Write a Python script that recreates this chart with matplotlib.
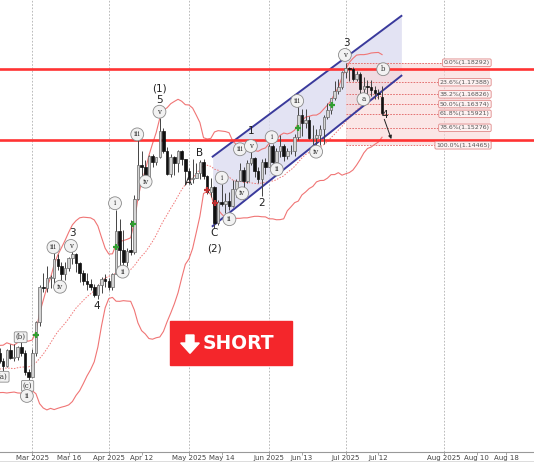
import matplotlib
matplotlib.use('Agg')
import matplotlib.pyplot as plt
from matplotlib.patches import Rectangle, Polygon
from matplotlib.lines import Line2D
import numpy as np
import pandas as pd

# daily candles, Feb 18 - Jul 15 2025
dates = ['02-18', '02-19', '02-20', '02-21', '02-24', '02-25', '02-26', '02-27', '02-28',
         '03-03', '03-04', '03-05', '03-06', '03-07', '03-10', '03-11', '03-12', '03-13', '03-14',
         '03-17', '03-18', '03-19', '03-20', '03-21', '03-24', '03-25', '03-26', '03-27', '03-28', '03-31',
         '04-01', '04-02', '04-03', '04-04', '04-07', '04-08', '04-09', '04-10', '04-11', '04-14',
         '04-15', '04-16', '04-17', '04-18', '04-21', '04-22', '04-23', '04-24', '04-25', '04-28',
         '04-29', '04-30', '05-01', '05-02', '05-05', '05-06', '05-07', '05-08', '05-09', '05-12',
         '05-13', '05-14', '05-15', '05-16', '05-19', '05-20', '05-21', '05-22', '05-23', '05-26',
         '05-27', '05-28', '05-29', '05-30', '06-02', '06-03', '06-04', '06-05', '06-06', '06-09',
         '06-10', '06-11', '06-12', '06-13', '06-16', '06-17', '06-18', '06-19', '06-20', '06-23',
         '06-24', '06-25', '06-26', '06-27', '06-30', '07-01', '07-02', '07-03', '07-04', '07-07',
         '07-08', '07-09', '07-10', '07-11', '07-14', '07-15']
opens = [1.0483, 1.0446, 1.0422, 1.0500, 1.0459, 1.0465, 1.0512, 1.0485, 1.0398,
         1.0375, 1.0484, 1.0626, 1.0792, 1.0784, 1.0832, 1.0833, 1.0918, 1.0889, 1.0852,
         1.0878, 1.0922, 1.0942, 1.0900, 1.0853, 1.0816, 1.0802, 1.0790, 1.0754, 1.0800, 1.0827,
         1.0816, 1.0791, 1.0852, 1.1050, 1.0959, 1.0905, 1.0960, 1.0951, 1.1198, 1.1356,
         1.1348, 1.1283, 1.1398, 1.1369, 1.1393, 1.1514, 1.1418, 1.1313, 1.1390, 1.1364,
         1.1421, 1.1382, 1.1327, 1.1289, 1.1297, 1.1317, 1.1367, 1.1303, 1.1232, 1.1251,
         1.1088, 1.1185, 1.1175, 1.1187, 1.1165, 1.1242, 1.1283, 1.1330, 1.1281, 1.1364,
         1.1386, 1.1326, 1.1292, 1.1368, 1.1348, 1.1442, 1.1370, 1.1419, 1.1443, 1.1397,
         1.1420, 1.1422, 1.1487, 1.1585, 1.1549, 1.1562, 1.1479, 1.1480, 1.1494, 1.1523,
         1.1578, 1.1609, 1.1664, 1.1700, 1.1718, 1.1787, 1.1803, 1.1800, 1.1752, 1.1777,
         1.1709, 1.1722, 1.1717, 1.1703, 1.1689, 1.1668]
highs = [1.0505, 1.0461, 1.0504, 1.0528, 1.0528, 1.0516, 1.0545, 1.0498, 1.0411,
         1.0502, 1.0630, 1.0797, 1.0854, 1.0889, 1.0845, 1.0947, 1.0944, 1.0905, 1.0907,
         1.0927, 1.0955, 1.0946, 1.0904, 1.0867, 1.0856, 1.0826, 1.0804, 1.0803, 1.0837, 1.0852,
         1.0832, 1.0855, 1.1146, 1.1107, 1.1052, 1.0970, 1.1099, 1.1214, 1.1474, 1.1422,
         1.1379, 1.1401, 1.1405, 1.1394, 1.1573, 1.1526, 1.1437, 1.1405, 1.1395, 1.1423,
         1.1424, 1.1385, 1.1340, 1.1381, 1.1364, 1.1379, 1.1381, 1.1310, 1.1295, 1.1260,
         1.1195, 1.1265, 1.1227, 1.1228, 1.1287, 1.1288, 1.1363, 1.1346, 1.1376, 1.1418,
         1.1390, 1.1345, 1.1384, 1.1386, 1.1451, 1.1451, 1.1434, 1.1495, 1.1454, 1.1435,
         1.1449, 1.1498, 1.1631, 1.1614, 1.1615, 1.1583, 1.1541, 1.1521, 1.1540, 1.1585,
         1.1641, 1.1667, 1.1744, 1.1754, 1.1789, 1.1829, 1.1808, 1.1808, 1.1792, 1.1787,
         1.1765, 1.1747, 1.1749, 1.1720, 1.1705, 1.1720]
lows = [1.0437, 1.0401, 1.0418, 1.0458, 1.0449, 1.0452, 1.0470, 1.0382, 1.0359,
        1.0373, 1.0470, 1.0610, 1.0767, 1.0768, 1.0786, 1.0808, 1.0868, 1.0808, 1.0822,
        1.0863, 1.0898, 1.0860, 1.0811, 1.0798, 1.0778, 1.0776, 1.0745, 1.0733, 1.0764, 1.0788,
        1.0777, 1.0777, 1.0851, 1.0882, 1.0878, 1.0889, 1.0940, 1.0941, 1.1193, 1.1265,
        1.1264, 1.1273, 1.1347, 1.1356, 1.1386, 1.1413, 1.1308, 1.1300, 1.1311, 1.1321,
        1.1355, 1.1264, 1.1266, 1.1271, 1.1294, 1.1290, 1.1292, 1.1222, 1.1208, 1.1065,
        1.1076, 1.1163, 1.1131, 1.1146, 1.1160, 1.1208, 1.1279, 1.1235, 1.1274, 1.1354,
        1.1301, 1.1271, 1.1211, 1.1315, 1.1347, 1.1357, 1.1355, 1.1392, 1.1372, 1.1382,
        1.1404, 1.1399, 1.1469, 1.1489, 1.1527, 1.1474, 1.1446, 1.1446, 1.1450, 1.1452,
        1.1569, 1.1590, 1.1655, 1.1682, 1.1707, 1.1756, 1.1745, 1.1746, 1.1745, 1.1683,
        1.1683, 1.1683, 1.1676, 1.1659, 1.1660, 1.1587]
closes = [1.0446, 1.0422, 1.0500, 1.0459, 1.0465, 1.0512, 1.0485, 1.0398, 1.0375,
          1.0484, 1.0626, 1.0792, 1.0784, 1.0832, 1.0833, 1.0918, 1.0889, 1.0852, 1.0878,
          1.0922, 1.0942, 1.0900, 1.0853, 1.0816, 1.0802, 1.0790, 1.0754, 1.0800, 1.0827, 1.0816,
          1.0791, 1.0852, 1.1050, 1.0959, 1.0905, 1.0955, 1.0951, 1.1198, 1.1356, 1.1348,
          1.1283, 1.1398, 1.1369, 1.1393, 1.1514, 1.1418, 1.1313, 1.1390, 1.1364, 1.1421,
          1.1382, 1.1327, 1.1289, 1.1297, 1.1317, 1.1367, 1.1303, 1.1232, 1.1251, 1.1088,
          1.1185, 1.1175, 1.1187, 1.1165, 1.1242, 1.1283, 1.1330, 1.1281, 1.1364, 1.1386,
          1.1326, 1.1292, 1.1368, 1.1348, 1.1442, 1.1370, 1.1419, 1.1443, 1.1397, 1.1420,
          1.1422, 1.1487, 1.1585, 1.1549, 1.1562, 1.1479, 1.1480, 1.1494, 1.1523, 1.1578,
          1.1609, 1.1664, 1.1700, 1.1718, 1.1787, 1.1803, 1.1800, 1.1752, 1.1777, 1.1709,
          1.1722, 1.1717, 1.1703, 1.1689, 1.1682, 1.1598]
# closes before the first visible candle (Jan 21 - Feb 17), only for the bands
pre_closes = [1.0431, 1.0407, 1.0413, 1.0496, 1.0494, 1.0432, 1.0422, 1.0390, 1.0362, 1.0348,
              1.0378, 1.0403, 1.0382, 1.0331, 1.0307, 1.0362, 1.0384, 1.0465, 1.0492, 1.0484]

# fibonacci retracement of the last swing
fib_pcts = ['0.0%', '23.6%', '38.2%', '50.0%', '61.8%', '78.6%', '100.0%']
fib_prices = [1.18292, 1.17388, 1.16826, 1.16374, 1.15921, 1.15276, 1.14465]
red_levels = [1.1800, 1.1473]

# signal markers
green_x = [9.9, 31.9, 36.7, 82.0, 91.2]
green_y = [1.0567, 1.0977, 1.1082, 1.1525, 1.1633]
red_x = [56.9, 59.1]
red_y = [1.1239, 1.1178]

# wave counts
circ_labels = ['(a)', '(b)', '(c)', 'ii', 'iii', 'iv', 'v', 'i', 'ii', 'iii', 'iv', 'v',
               'i', 'ii', 'iii', 'iv', 'v', 'i', 'ii', 'iii', 'iv', 'v', 'a', 'b']
circ_x = [0.9, 5.8, 7.7, 7.5, 14.8, 16.6, 19.6, 31.7, 33.8, 37.8, 40.1, 43.9,
          61.0, 63.1, 66.0, 66.6, 69.0, 74.7, 76.1, 81.7, 86.9, 94.8, 99.9, 105.3]
circ_y = [1.0374, 1.0557, 1.0332, 1.0285, 1.0974, 1.0791, 1.0980, 1.1178, 1.0861, 1.1497, 1.1278, 1.1602,
          1.1296, 1.1104, 1.1428, 1.1224, 1.1443, 1.1484, 1.1335, 1.1652, 1.1417, 1.1865, 1.1660, 1.1799]
wave_labels = ['3', '4', '5', '(1)', 'A', 'B', 'C', '(2)', '1', '2', '3', '4']
wave_x = [19.9, 26.8, 43.9, 44.0, 51.8, 55.0, 58.9, 59.0, 69.0, 72.0, 95.1, 105.8]
wave_y = [1.1039, 1.0702, 1.1656, 1.1709, 1.1275, 1.1409, 1.1039, 1.0968, 1.1513, 1.1178, 1.1919, 1.1587]

# rising channel
chan_x = [58.5, 110.3]
chan_top = [1.1394, 1.2046]
chan_bot = [1.1072, 1.1769]

tick_pos = [9, 19, 30, 39, 52, 61, 74, 83, 95, 104, 122, 131, 139]
tick_labels = ['Mar 2025', 'Mar 16', 'Apr 2025', 'Apr 12', 'May 2025', 'May 14', 'Jun 2025',
               'Jun 13', 'Jul 2025', 'Jul 12', 'Aug 2025', 'Aug 10', 'Aug 18']
month_lines = [9, 30, 52, 74, 95, 122]

W, H = 534, 462
fig = plt.figure(figsize=(W / 100, H / 100), dpi=100)
ax = fig.add_axes([0, 10.5 / H, 1, 1 - 10.5 / H])
ax.set_xlim(0.134, 146.7)
ax.set_ylim(1.00276, 1.21197)

x = np.arange(len(closes))
o = np.array(opens); h = np.array(highs); l = np.array(lows); c = np.array(closes)

# bollinger bands 20, 2
s = pd.Series(pre_closes + closes)
mid = s.rolling(20).mean().values[-len(closes):]
sd = s.rolling(20).std(ddof=0).values[-len(closes):]
ax.plot(x, mid + 2 * sd, color='#f07575', lw=0.8, zorder=3)
ax.plot(x, mid - 2 * sd, color='#f07575', lw=0.8, zorder=3)
ax.plot(x, mid, color='#f07575', lw=0.7, ls=(0, (1.5, 1.5)), zorder=3)

# month grid
for m in month_lines:
    ax.axvline(m, color='#b0b0b0', lw=0.6, ls=(0, (2, 2)), zorder=0)

# channel
ax.fill_between(chan_x, chan_bot, chan_top, color='#dcdcf0', alpha=0.8, lw=0, zorder=1)
ax.plot(chan_x, chan_top, color='#3a3a9c', lw=1.4, zorder=4)
ax.plot(chan_x, chan_bot, color='#3a3a9c', lw=1.4, zorder=4)

# fib zone
ax.add_patch(Rectangle((95.1, fib_prices[-1]), 134.6 - 95.1, fib_prices[0] - fib_prices[-1],
                       color='#f9d6d6', alpha=0.6, lw=0, zorder=1))
for pct, pr in zip(fib_pcts, fib_prices):
    ax.plot([95.1, 134.6], [pr, pr], color='#e06060', lw=0.6, ls=(0, (2, 1.5)), zorder=2)
    ax.text(134.6, pr, '%s(%.5f)' % (pct, pr), fontsize=4.5, color='#555555', ha='right', va='center',
            bbox=dict(boxstyle='round,pad=0.2', fc='#fdf2f2', ec='#e08888', lw=0.6), zorder=6)

for lv in red_levels:
    ax.axhline(lv, color='#ff3333', lw=1.9, zorder=5)

# candles
up = c >= o
ax.vlines(x, l, h, color='#444444', lw=0.7, zorder=6)
body = np.maximum(np.abs(c - o), 0.0002)
ax.bar(x[up], body[up], bottom=o[up], width=0.7, color='#d4d4d4', edgecolor='#666666', lw=0.5, zorder=7)
ax.bar(x[~up], body[~up], bottom=c[~up], width=0.7, color='#111111', edgecolor='#111111', lw=0.5, zorder=7)

ax.plot(green_x, green_y, '+', color='#2f9e2f', ms=5, mew=1.6, zorder=8)
ax.plot(red_x, red_y, '+', color='#c03030', ms=5, mew=1.6, zorder=8)

for t, tx, ty in zip(circ_labels, circ_x, circ_y):
    style = 'round,pad=0.2' if t.startswith('(') else 'circle,pad=0.35'
    ax.text(tx, ty, t, fontsize=5, family='DejaVu Serif', color='#333333', ha='center', va='center',
            bbox=dict(boxstyle=style, fc='#f2f2f2', ec='#8a8a8a', lw=0.6), zorder=9)
for t, tx, ty in zip(wave_labels, wave_x, wave_y):
    ax.text(tx, ty, t, fontsize=7.5, color='#222222', ha='center', va='center', zorder=9)

ax.annotate('', xy=(107.8, 1.1463), xytext=(105.35, 1.1579),
            arrowprops=dict(arrowstyle='-|>', color='#222222', lw=0.7, mutation_scale=5), zorder=9)

# axis styling
for sp in ['left', 'right', 'top']:
    ax.spines[sp].set_visible(False)
ax.spines['bottom'].set_color('#999999')
ax.spines['bottom'].set_linewidth(0.8)
ax.set_yticks([])
ax.set_xticks(tick_pos)
ax.set_xticklabels(tick_labels, fontsize=5, color='#444444')
ax.tick_params(axis='x', length=2, width=0.6, color='#999999', pad=0.6)

# SHORT button
def fxy(px, py):
    return px / W, 1 - py / H

fig.add_artist(Rectangle(fxy(170, 365), 121.7 / W, 44.3 / H, transform=fig.transFigure,
                         color='#f4262b', zorder=10))
arrow_px = [(186, 335), (194, 335), (194, 343), (199.3, 343), (190, 353.3), (180.7, 343), (186, 343)]
fig.add_artist(Polygon([fxy(*p) for p in arrow_px], closed=True, transform=fig.transFigure,
                       color='white', zorder=11))
fig.text(*fxy(203, 343.5), 'SHORT', color='white', fontsize=13.5, fontweight='bold',
         ha='left', va='center', zorder=11)
fig.add_artist(Line2D([0, 1], [0.5 / H, 0.5 / H], transform=fig.transFigure, color='#555555', lw=1))

fig.savefig('out.png', dpi=100)
